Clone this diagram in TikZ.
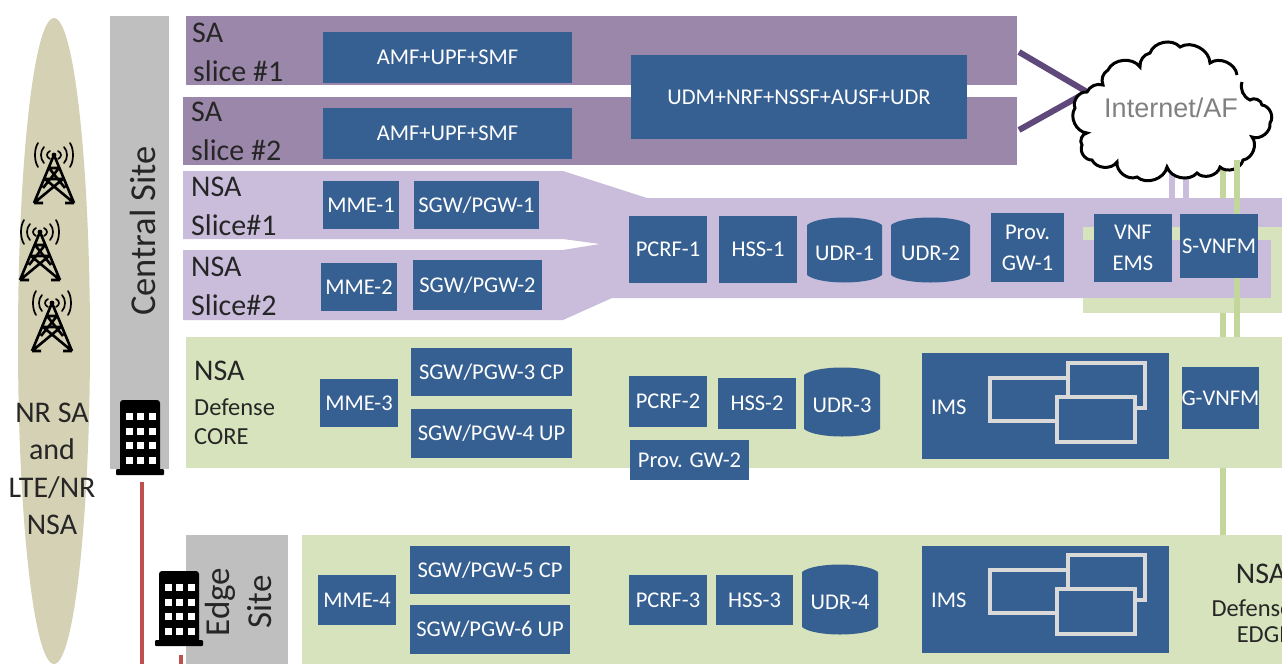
\documentclass[tikz,border=0pt]{standalone}
\usepackage{fontspec}
\setmainfont{Carlito}
\newfontfamily\arialf{Liberation Sans}
\definecolor{sadark}{HTML}{9B87AA}
\definecolor{nsalight}{HTML}{C9BDDB}
\definecolor{greenbg}{HTML}{D7E3BC}
\definecolor{bluebx}{HTML}{376092}
\definecolor{greysite}{HTML}{BFBFBF}
\definecolor{greenln}{HTML}{C3D69B}
\definecolor{purpln}{HTML}{5F497A}
\definecolor{redln}{HTML}{C0504D}
\definecolor{ellfill}{HTML}{D5D1B4}
\definecolor{winln}{HTML}{D9D9D9}
\tikzset{
 bluebox/.style={fill=bluebx,inner sep=0pt,text=white,align=center,font=\fontsize{22.5}{31}\selectfont},
 cylbox/.style={inner sep=0pt,text=white,align=center,font=\fontsize{22.5}{31}\selectfont},
 lab/.style={inner sep=0pt,anchor=west,text=black!85,font=\fontsize{30}{32}\selectfont},
 labs/.style={inner sep=0pt,anchor=west,text=black!85,font=\fontsize{24.5}{28}\selectfont},
 sitelab/.style={inner sep=0pt,rotate=90,text=black!85,align=center},
 purplink/.style={draw=nsalight,line width=6pt},
 greenlink/.style={draw=greenln,line width=6pt},
 winbox/.style={draw=winln,line width=4pt,fill=bluebx},
 towerln/.style={draw=black,line width=2.6pt,line join=round},
 wave/.style={draw=black,line width=1.7pt,line cap=round},
}
\newcommand{\bx}[6]{\node[bluebox,minimum width={(#4-#2)*1pt},minimum height={(#5-#3)*1pt}] (#1) at ({(#2+#4)/2},{(#3+#5)/2}) {#6};}
\newcommand{\cyl}[6]{%
 \fill[bluebx] (#2,#3+8) .. controls (#2+12,#3-2) and (#4-12,#3-2) .. (#4,#3+8)
   -- (#4,#5-8) .. controls (#4-12,#5+2) and (#2+12,#5+2) .. (#2,#5-8) -- cycle;
 \node[cylbox] (#1) at ({(#2+#4)/2},{(#3+#5)/2+3}) {#6};}
\newcommand{\ims}[5]{%
 \bx{#1}{922}{#2}{1169}{#3}{}
 \node[bluebox,anchor=west] (#1t) at (931,{(#2+#3)/2+1}) {IMS};
 \draw[winbox] (990,#4+15) rectangle (1085,#4+58);
 \draw[winbox] (1068,#4) rectangle (1145,#4+45);
 \draw[winbox] (1057,#4+34) rectangle (1135,#4+79);
}
\newcommand{\tower}[2]{\begin{scope}[shift={(#1,#2)}]
 \draw[towerln] (-20,48) -- (0,0) -- (20,48) (-20,48) -- (-11,48) (20,48) -- (11,48)
   (-20,48) -- (9,24) (20,48) -- (-9,24) (-9,24) -- (9,24) (-5,13) -- (5,13) (-5,13) -- (11,33) (5,13) -- (-11,33);
 \fill (0,0) circle (2.4);
 \foreach \r/\h in {6/4,12/8,18/12}{
  \draw[wave] (-\r+2,-\h) .. controls (-\r-2,-\h/2) and (-\r-2,\h/2) .. (-\r+2,\h);
  \draw[wave] (\r-2,-\h) .. controls (\r+2,-\h/2) and (\r+2,\h/2) .. (\r-2,\h);
 }
\end{scope}}
\newcommand{\bldg}[2]{\begin{scope}[shift={(#1,#2)}]
 \fill[black,rounded corners=3pt] (1,0) rectangle (41,72);
 \fill[black,rounded corners=1pt] (-3,69) rectangle (45,75);
 \foreach \r in {0,1,2,3}\foreach \c in {0,1,2}{
  \fill[white] (6.5+\c*11.5,13+\r*14.5) rectangle ++(7,7);}
\end{scope}}
\begin{document}
\begin{tikzpicture}[x=1pt,y=-1pt]
\useasboundingbox (0,0) rectangle (1282,664);
\fill[white] (0,0) rectangle (1282,664);
% radio ellipse
\fill[ellfill] (54,341) ellipse [x radius=36,y radius=323];
\node[inner sep=0pt,align=center,text=black!85,font=\fontsize{30}{37.4}\selectfont] (radio) at (52,469) {NR SA\\and\\LTE/NR\\NSA};
\tower{54}{155}
\tower{40}{232}
\tower{52}{303}
% sites
\fill[greysite] (110,16) rectangle (169,469);
\node[sitelab,font=\fontsize{36.5}{40}\selectfont] (central) at (143,231) {Central Site};
\fill[greysite] (186,535) rectangle (288,664);
\node[sitelab,font=\fontsize{35}{42}\selectfont] (edge) at (238,602) {Edge\\Site};
\draw[redln,line width=4pt] (142,482) -- (142,664);
\draw[redln,line width=4pt] (181,655) -- (181,664);
\bldg{119}{400}
\bldg{158}{571}
% slice bands
\fill[sadark] (186,16) rectangle (1017,85);
\fill[sadark] (183,97) rectangle (1017,165);
\fill[nsalight] (183,171) -- (563,171) -- (647,198) -- (1282,198) -- (1282,298) -- (612,298) -- (563,320) -- (183,320) -- (183,250) -- (563,250) -- (600,244) -- (563,239) -- (183,239) -- cycle;
\fill[greenbg] (1083,227) rectangle (1282,313);
\fill[nsalight] (1075,240) rectangle (1271,298);
\fill[greenbg] (186,337) rectangle (1282,468);
\fill[greenbg] (302,535) rectangle (1282,664);
% band labels
\node[lab] (l1) at (192,33) {SA};
\node[lab] (l2) at (193,71) {slice \#1};
\node[lab] (l3) at (191,112) {SA};
\node[lab] (l4) at (191,150) {slice \#2};
\node[lab] (l5) at (191,187) {NSA};
\node[lab] (l6) at (191,225) {Slice\#1};
\node[lab] (l7) at (191,267) {NSA};
\node[lab] (l8) at (191,305) {Slice\#2};
\node[lab] (l9) at (194,371) {NSA};
\node[labs] (l10) at (194,407) {Defense};
\node[labs] (l11) at (194,437) {CORE};
\node[lab,anchor=center] (l12) at (1261,574) {NSA};
\node[labs,anchor=center] (l13) at (1252,608) {Defense};
\node[labs,anchor=center] (l14) at (1264,635) {EDGE};
% cloud
\coordinate (cloudL) at (1087,92);
\coordinate (sa1c) at (1019,52);
\coordinate (sa2c) at (1019,130);
\coordinate (cp1) at (1171.5,165);
\coordinate (cp2) at (1186,165);
\coordinate (cg1) at (1223,160);
\coordinate (cg2) at (1237,160);
\coordinate (bandp1) at (1171.5,198);
\coordinate (bandp2) at (1186,198);
\coordinate (bandg1) at (1223,198);
\coordinate (greeng1) at (1223,313);
\coordinate (core1) at (1223,337);
\coordinate (core2) at (1237,337);
\coordinate (core3) at (1223,468);
\coordinate (edge3) at (1223,535);
\draw[purpln,line width=6pt,line join=miter] (sa1c) -- (cloudL) -- (sa2c);
\draw[purplink] (cp1) -- (bandp1);
\draw[purplink] (cp2) -- (bandp2);
\draw[greenlink] (cg1) -- (bandg1);
\draw[greenlink] (greeng1) -- (core1);
\draw[greenlink] (core3) -- (edge3);
\fill[white] (1087,92) to[bend right=60] (1075,108) to[bend right=60] (1087,133) to[bend right=60] (1082,145) to[bend right=60] (1092,160) to[bend right=60] (1117,162) to[bend right=60] (1137,177) to[bend right=60] (1167,167) to[bend right=60] (1197,173) to[bend right=60] (1220,167) to[bend right=60] (1243,160) to[bend right=60] (1252,137) to[bend right=60] (1270,123) to[bend right=60] (1262,105) to[bend right=60] (1250,100) to[bend right=40] (1242,82) to (1237,75) to[bend right=60] (1210,63) to[bend right=60] (1180,47) to[bend right=60] (1150,53) to[bend right=40] (1140,67) to[bend right=60] (1108,70) to[bend right=40] (1103,85) to[bend right=40] (1087,92) -- cycle;
\draw[black,line width=3pt] (1242,82) to[bend right=40] (1250,100) to[bend left=60] (1262,105) to[bend left=60] (1270,123) to[bend left=60] (1252,137) to[bend left=60] (1243,160) to[bend left=60] (1220,167) to[bend left=60] (1197,173) to[bend left=60] (1167,167) to[bend left=60] (1137,177) to[bend left=60] (1117,162) to[bend left=60] (1092,160) to[bend left=60] (1082,145) to[bend left=60] (1087,133) to[bend left=60] (1075,108) to[bend left=60] (1087,92) to[bend left=40] (1103,85) to[bend left=40] (1108,70) to[bend left=60] (1140,67) to[bend left=40] (1150,53) to[bend left=60] (1180,47) to[bend left=60] (1210,63) to[bend left=60] (1237,75);
\node[inner sep=0pt,text=black!50,font=\arialf\fontsize{27}{30}\selectfont] (cloud) at (1171,108) {Internet/AF};
% blue boxes
\bx{amf1}{323}{32}{572}{83}{AMF+UPF+SMF}
\bx{amf2}{323}{108}{572}{159}{AMF+UPF+SMF}
\bx{udm}{631}{55}{967}{139}{UDM+NRF+NSSF+AUSF+UDR}
\bx{mme1}{323}{181}{399}{229}{MME-1}
\bx{sgw1}{414}{181}{539}{229}{SGW/PGW-1}
\bx{mme2}{321}{263}{397}{311}{MME-2}
\bx{sgw2}{413}{260}{542}{310}{SGW/PGW-2}
\bx{pcrf1}{629}{216}{707}{283}{PCRF-1}
\bx{hss1}{719}{216}{797}{283}{HSS-1}
\cyl{udr1}{807}{217}{882}{283}{UDR-1}
\cyl{udr2}{891}{217}{970}{283}{UDR-2}
\bx{prov1}{991}{213}{1064}{282}{Prov.\\GW-1}
\bx{vnf}{1094}{214}{1172}{282}{VNF\\EMS}
\draw[greenlink] (bandg1 -| cg2) ++(0,-38) -- ++(0,54);
\bx{svnfm}{1180}{214}{1258}{278}{S-VNFM}
\draw[greenlink] (svnfm.south -| core2) -- (core2);
\bx{mme3}{320}{379}{398}{427}{MME-3}
\bx{sgw3}{411}{348}{572}{396}{SGW/PGW-3 CP}
\bx{sgw4}{411}{409}{572}{458}{SGW/PGW-4 UP}
\bx{pcrf2}{629}{376}{707}{427}{PCRF-2}
\bx{hss2}{718}{378}{796}{429}{HSS-2}
\cyl{udr3}{804}{367}{880}{437}{UDR-3}
\bx{prov2}{630}{440}{749}{480}{Prov. GW-2}
\ims{ims1}{353}{459}{363}{}
\bx{gvnfm}{1182}{367}{1259}{429}{G-VNFM}
\bx{mme4}{318}{575}{396}{625}{MME-4}
\bx{sgw5}{410}{546}{570}{594}{SGW/PGW-5 CP}
\bx{sgw6}{410}{605}{570}{654}{SGW/PGW-6 UP}
\bx{pcrf3}{629}{575}{707}{625}{PCRF-3}
\bx{hss3}{716}{575}{793}{625}{HSS-3}
\cyl{udr4}{802}{564}{878}{635}{UDR-4}
\ims{ims2}{546}{653}{555}{}
\end{tikzpicture}
\end{document}
